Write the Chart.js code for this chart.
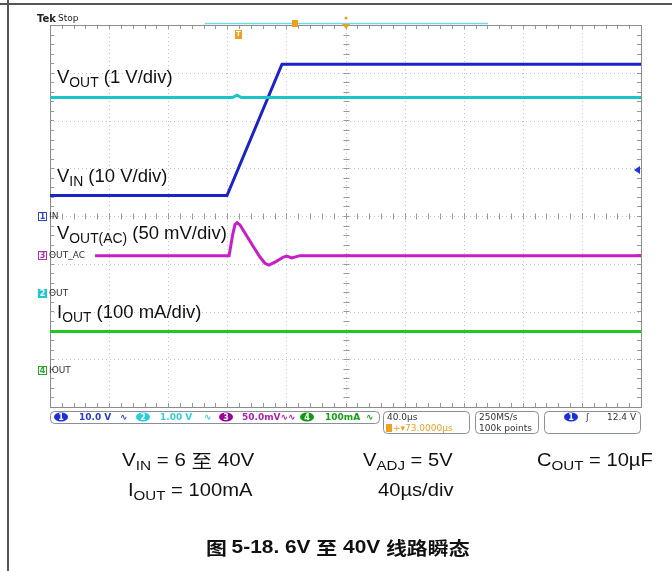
<!DOCTYPE html>
<html>
<head>
<meta charset="utf-8">
<script src="https://cdn.jsdelivr.net/npm/chart.js@4/dist/chart.umd.min.js"></script>
<style>
  html, body { margin: 0; padding: 0; background: #fff; }
  #wrap { position: relative; width: 672px; height: 571px; }
</style>
</head>
<body>
<div id="wrap"><canvas id="scope" width="672" height="571"></canvas></div>
<script>
// time base 40 us/div, 10 divisions; vertical in screen divisions (8 divs, centre = 0)
const timeMin = 0;
const timeMax = 400;
const divMin = -4;
const divMax = 4;

// CH1 VIN (10 V/div)
const vinTime = [0, 119.8, 157.0, 400];
const vinDiv = [0.43, 0.43, 3.18, 3.18];

// CH2 VOUT (1 V/div)
const voutTime = [0, 123.5, 126.5, 129.5, 400];
const voutDiv = [2.48, 2.48, 2.53, 2.48, 2.48];

// CH3 VOUT AC (50 mV/div)
const acTime = [30.5, 121.2, 123.6, 125.2, 126.6, 128.6, 133.2, 138.0, 142.1, 145.5, 148.2, 153.2, 158.0, 160.2, 163.6, 169.2, 400];
const acDiv = [-0.83, -0.83, -0.40, -0.18, -0.14, -0.19, -0.42, -0.66, -0.86, -0.99, -1.03, -0.95, -0.86, -0.84, -0.88, -0.83, -0.83];

// CH4 IOUT (100 mA/div)
const ioutTime = [0, 400];
const ioutDiv = [-2.42, -2.42];

const FONT = '"Liberation Sans", Arial, sans-serif';
const CJK = '"Noto Sans CJK SC", sans-serif';

const pts = (ts, vs) => ts.map((t, i) => ({ x: t, y: vs[i] }));

function rich(ctx, x, y, parts, size, color, sx) {
  ctx.save();
  ctx.translate(x, y);
  ctx.scale(sx || 1, 1);
  ctx.fillStyle = color;
  ctx.textBaseline = 'middle';
  let cx = 0;
  parts.forEach(p => {
    const s = p.sub ? size * 0.75 : size;
    ctx.font = (p.bold ? 'bold ' : '') + s + 'px ' + (p.cjk ? CJK : FONT);
    ctx.fillText(p.t, cx, p.sub ? size * 0.3 : 0);
    cx += ctx.measureText(p.t).width;
  });
  ctx.restore();
}

const graticule = {
  id: 'graticule',
  beforeDatasetsDraw(chart) {
    const { ctx, chartArea: a, scales: { x, y } } = chart;
    ctx.save();
    ctx.strokeStyle = '#c4c4c4';
    ctx.lineWidth = 1;
    ctx.setLineDash([1, 3]);
    for (let t = timeMin + 40; t < timeMax; t += 40) {
      const px = Math.round(x.getPixelForValue(t)) + 0.5;
      ctx.beginPath(); ctx.moveTo(px, a.top); ctx.lineTo(px, a.bottom); ctx.stroke();
    }
    for (let d = divMin + 1; d < divMax; d++) {
      const py = Math.round(y.getPixelForValue(d)) + 0.5;
      ctx.beginPath(); ctx.moveTo(a.left, py); ctx.lineTo(a.right, py); ctx.stroke();
    }
    ctx.setLineDash([]);
    // minor ticks on centre lines and border
    ctx.strokeStyle = '#9a9a9a';
    const cx = Math.round(x.getPixelForValue(200)) + 0.5;
    const cy = Math.round(y.getPixelForValue(0)) + 0.5;
    for (let t = timeMin; t <= timeMax; t += 8) {
      const px = Math.round(x.getPixelForValue(t)) + 0.5;
      ctx.beginPath();
      ctx.moveTo(px, cy - 3); ctx.lineTo(px, cy + 3);
      ctx.moveTo(px, a.top); ctx.lineTo(px, a.top + 4);
      ctx.moveTo(px, a.bottom); ctx.lineTo(px, a.bottom - 4);
      ctx.stroke();
    }
    for (let d = divMin; d <= divMax + 0.001; d += 0.2) {
      const py = Math.round(y.getPixelForValue(d)) + 0.5;
      ctx.beginPath();
      ctx.moveTo(cx - 3, py); ctx.lineTo(cx + 3, py);
      ctx.moveTo(a.left, py); ctx.lineTo(a.left + 4, py);
      ctx.moveTo(a.right, py); ctx.lineTo(a.right - 4, py);
      ctx.stroke();
    }
    ctx.strokeStyle = '#8c8c8c';
    ctx.strokeRect(Math.round(a.left) + 0.5, Math.round(a.top) + 0.5, Math.round(a.right - a.left), Math.round(a.bottom - a.top));
    ctx.restore();
  }
};

function badge(ctx, cx, cy, n, fill) {
  ctx.fillStyle = fill;
  ctx.beginPath(); ctx.ellipse(cx, cy, 7, 4.5, 0, 0, Math.PI * 2); ctx.fill();
  ctx.fillStyle = '#fff';
  ctx.font = 'bold 8px "DejaVu Sans", sans-serif';
  ctx.textAlign = 'center';
  ctx.fillText(n, cx, cy + 0.5);
  ctx.textAlign = 'left';
}

function box(ctx, x, y, w, h) {
  ctx.beginPath(); ctx.roundRect(x + 0.5, y + 0.5, w, h, 4); ctx.stroke();
}

const annotations = {
  id: 'annotations',
  afterDraw(chart) {
    const { ctx, scales: { x, y } } = chart;
    ctx.save();
    // page frame
    ctx.fillStyle = '#555';
    ctx.fillRect(0, 3, 672, 2);
    ctx.fillRect(7, 0, 2, 571);

    // header
    ctx.textBaseline = 'middle';
    ctx.fillStyle = '#222';
    ctx.font = 'bold 10px "DejaVu Sans", sans-serif';
    ctx.fillText('Tek', 37, 19);
    ctx.font = '9px "DejaVu Sans", sans-serif';
    ctx.fillText('Stop', 58, 19);
    ctx.strokeStyle = '#6fdce4'; ctx.lineWidth = 1.5;
    ctx.beginPath(); ctx.moveTo(205, 23.5); ctx.lineTo(488, 23.5); ctx.stroke();
    ctx.fillStyle = '#f0a020';
    ctx.fillRect(292, 20, 6, 7);
    ctx.beginPath(); ctx.arc(346, 18, 1.5, 0, Math.PI * 2); ctx.fill();
    ctx.beginPath(); ctx.moveTo(342, 24); ctx.lineTo(350, 24); ctx.lineTo(346, 29); ctx.fill();
    const tx = x.getPixelForValue(vinTime[1]) + 11;
    ctx.fillRect(tx - 3, 30, 7, 9);
    ctx.fillStyle = '#fff'; ctx.font = 'bold 7px "DejaVu Sans", sans-serif'; ctx.textAlign = 'center';
    ctx.fillText('T', tx + 0.5, 34.5); ctx.textAlign = 'left';

    // trigger level arrow
    ctx.fillStyle = '#2233dd';
    ctx.beginPath(); ctx.moveTo(634, 170); ctx.lineTo(640, 166); ctx.lineTo(640, 174); ctx.fill();

    // channel ground markers
    const marks = [
      { n: '1', txt: 'IN', d: 0, col: '#3344cc', filled: false },
      { n: '3', txt: 'OUT_AC', d: -0.82, col: '#b030b0', filled: false },
      { n: '2', txt: 'OUT', d: -1.62, col: '#1ec8d0', filled: true },
      { n: '4', txt: 'IOUT', d: -3.23, col: '#2aa82a', filled: false }
    ];
    marks.forEach(m => {
      const py = Math.round(y.getPixelForValue(m.d));
      ctx.lineWidth = 1;
      if (m.filled) {
        ctx.fillStyle = m.col; ctx.fillRect(38, py - 4, 9, 9);
        ctx.fillStyle = '#fff';
      } else {
        ctx.fillStyle = '#fff'; ctx.fillRect(38, py - 4, 9, 9);
        ctx.strokeStyle = m.col; ctx.strokeRect(38.5, py - 3.5, 8, 8);
        ctx.fillStyle = m.col;
      }
      ctx.font = 'bold 8px "DejaVu Sans", sans-serif'; ctx.textAlign = 'center';
      ctx.fillText(m.n, 42.5, py + 1); ctx.textAlign = 'left';
      ctx.fillStyle = '#333'; ctx.font = '9px "DejaVu Sans", sans-serif';
      ctx.fillText(m.txt, 49, py + 1);
    });

    // trace labels
    rich(ctx, 57, 78, [{ t: 'V' }, { t: 'OUT', sub: true }, { t: ' (1 V/div)' }], 18.5, '#111');
    rich(ctx, 57, 177, [{ t: 'V' }, { t: 'IN', sub: true }, { t: ' (10 V/div)' }], 18.5, '#111');
    rich(ctx, 57, 234, [{ t: 'V' }, { t: 'OUT(AC)', sub: true }, { t: ' (50 mV/div)' }], 18.5, '#111');
    rich(ctx, 57, 313, [{ t: 'I' }, { t: 'OUT', sub: true }, { t: ' (100 mA/div)' }], 18.5, '#111');

    // status bar
    ctx.strokeStyle = '#8a8f9c'; ctx.lineWidth = 1;
    box(ctx, 50, 411, 329, 12);
    box(ctx, 383, 411, 86, 22);
    box(ctx, 475, 411, 63, 22);
    box(ctx, 544, 411, 96, 22);
    ctx.textBaseline = 'middle';
    badge(ctx, 61, 417, '1', '#1d2fd8');
    badge(ctx, 143, 417, '2', '#22d0d8');
    badge(ctx, 226, 417, '3', '#990099');
    badge(ctx, 307, 417, '4', '#119911');
    badge(ctx, 571, 417, '1', '#1d2fd8');
    ctx.font = 'bold 9px "DejaVu Sans", sans-serif';
    ctx.fillStyle = '#2a3cd0'; ctx.fillText('10.0 V', 79, 417.5); ctx.fillText('\u223F', 120, 417.5);
    ctx.fillStyle = '#33d0d8'; ctx.fillText('1.00 V', 160, 417.5); ctx.fillText('\u223F', 204, 417.5);
    ctx.fillStyle = '#b020b0'; ctx.fillText('50.0mV\u223F\u223F', 242, 417.5);
    ctx.fillStyle = '#16a016'; ctx.fillText('100mA', 325, 417.5); ctx.fillText('\u223F', 366, 417.5);
    ctx.fillStyle = '#333';
    ctx.font = '9px "DejaVu Sans", sans-serif';
    ctx.fillText('40.0\u00B5s', 387, 417.5);
    ctx.fillText('250MS/s', 479, 417.5);
    ctx.fillText('100k points', 479, 428.5);
    ctx.fillText('\u0283', 586, 417.5);
    ctx.fillText('12.4 V', 607, 417.5);
    ctx.fillStyle = '#f0a020';
    ctx.fillRect(386, 424, 6, 8);
    ctx.fillText('+\u25BE73.0000\u00B5s', 393, 428.5);

    // conditions text
    const T = '#111';
    rich(ctx, 122, 461, [{ t: 'V' }, { t: 'IN', sub: true }, { t: ' = 6 ' }, { t: '至', cjk: true }, { t: ' 40V' }], 18, T, 1.14);
    rich(ctx, 363, 461, [{ t: 'V' }, { t: 'ADJ', sub: true }, { t: ' = 5V' }], 18, T, 1.12);
    rich(ctx, 537, 461, [{ t: 'C' }, { t: 'OUT', sub: true }, { t: ' = 10\u00B5F' }], 18, T, 1.12);
    rich(ctx, 128, 491, [{ t: 'I' }, { t: 'OUT', sub: true }, { t: ' = 100mA' }], 18, T, 1.12);
    rich(ctx, 378, 491, [{ t: '40\u00B5s/div' }], 18, T, 1.12);
    rich(ctx, 206, 548, [{ t: '图 ', cjk: true, bold: true }, { t: '5-18. 6V ', bold: true }, { t: '至', cjk: true, bold: true }, { t: ' 40V ', bold: true }, { t: '线路瞬态', cjk: true, bold: true }], 18, T, 1.16);
    ctx.restore();
  }
};

const ds = (label, ts, vs, color) => ({
  label, data: pts(ts, vs), borderColor: color, borderWidth: 3,
  pointRadius: 0, tension: 0, fill: false
});

new Chart(document.getElementById('scope'), {
  type: 'line',
  data: {
    datasets: [
      ds('IOUT', ioutTime, ioutDiv, '#22c822'),
      ds('VOUT(AC)', acTime, acDiv, '#c81ec8'),
      ds('VOUT', voutTime, voutDiv, '#1cc4c8'),
      ds('VIN', vinTime, vinDiv, '#1a22c8')
    ]
  },
  options: {
    responsive: false,
    animation: false,
    layout: { padding: { left: 50, top: 25, right: 31, bottom: 164 } },
    scales: {
      x: { type: 'linear', min: timeMin, max: timeMax, display: false },
      y: { type: 'linear', min: divMin, max: divMax, display: false }
    },
    plugins: { legend: { display: false }, tooltip: { enabled: false } }
  },
  plugins: [graticule, annotations]
});
</script>
</body>
</html>
